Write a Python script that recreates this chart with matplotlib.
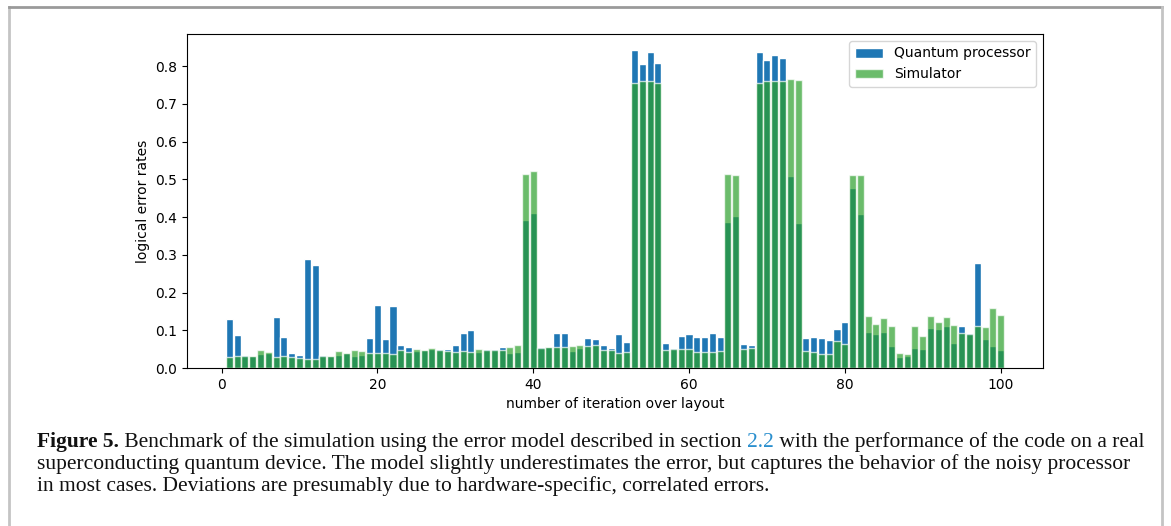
import numpy as np
import matplotlib
matplotlib.use('Agg')
import matplotlib.pyplot as plt
from matplotlib.lines import Line2D

iterations = np.arange(1, 101)

quantum = [0.130, 0.088, 0.035, 0.032, 0.037, 0.040, 0.136, 0.082, 0.040, 0.035,
           0.290, 0.274, 0.035, 0.032, 0.035, 0.040, 0.032, 0.035, 0.080, 0.168,
           0.077, 0.165, 0.061, 0.056, 0.045, 0.048, 0.051, 0.051, 0.051, 0.061,
           0.093, 0.101, 0.043, 0.051, 0.051, 0.056, 0.040, 0.043, 0.391, 0.410,
           0.056, 0.056, 0.093, 0.093, 0.045, 0.053, 0.080, 0.077, 0.061, 0.053,
           0.090, 0.069, 0.843, 0.806, 0.838, 0.809, 0.066, 0.053, 0.085, 0.090,
           0.082, 0.082, 0.093, 0.082, 0.388, 0.404, 0.064, 0.061, 0.838, 0.816,
           0.830, 0.822, 0.509, 0.384, 0.080, 0.082, 0.080, 0.074, 0.104, 0.122,
           0.476, 0.408, 0.096, 0.091, 0.096, 0.059, 0.029, 0.032, 0.053, 0.051,
           0.106, 0.104, 0.110, 0.067, 0.112, 0.093, 0.279, 0.077, 0.059, 0.048]

simulator = [0.029, 0.031, 0.031, 0.031, 0.048, 0.043, 0.029, 0.031, 0.029, 0.026,
             0.024, 0.024, 0.031, 0.032, 0.045, 0.039, 0.048, 0.045, 0.040, 0.040,
             0.040, 0.037, 0.048, 0.043, 0.051, 0.047, 0.052, 0.048, 0.045, 0.043,
             0.045, 0.043, 0.051, 0.048, 0.048, 0.048, 0.056, 0.061, 0.515, 0.521,
             0.053, 0.056, 0.056, 0.056, 0.059, 0.060, 0.059, 0.061, 0.048, 0.048,
             0.040, 0.043, 0.755, 0.761, 0.761, 0.755, 0.048, 0.051, 0.051, 0.051,
             0.043, 0.043, 0.043, 0.045, 0.515, 0.511, 0.051, 0.053, 0.755, 0.761,
             0.760, 0.760, 0.766, 0.763, 0.045, 0.043, 0.037, 0.037, 0.072, 0.064,
             0.512, 0.512, 0.138, 0.117, 0.133, 0.112, 0.040, 0.037, 0.111, 0.086,
             0.137, 0.121, 0.134, 0.114, 0.093, 0.090, 0.112, 0.109, 0.160, 0.140]

caption_lines = [
    "superconducting quantum device. The model slightly underestimates the error, but captures the behavior of the noisy processor",
    "in most cases. Deviations are presumably due to hardware-specific, correlated errors.",
]

fig = plt.figure(figsize=(11.71, 5.26), dpi=100)
ax = fig.add_axes([187 / 1171, 1 - 368 / 526, (1043 - 187) / 1171, (368 - 34) / 526])

ax.bar(iterations, quantum, width=0.9, color='tab:blue', edgecolor='white', label='Quantum processor')
ax.bar(iterations, simulator, width=0.9, color='tab:green', alpha=0.7, edgecolor='white', label='Simulator')
ax.set_xlabel('number of iteration over layout')
ax.set_ylabel('logical error rates')
ax.legend(loc='upper right')

# page frame around the figure
for xs, ys, c in [([8.5, 8.5], [526, 6.5], '#c4c4c4'),
                  ([8.5, 1162], [6.5, 6.5], '#9a9a9a'),
                  ([1162, 1162], [6.5, 526], '#c4c4c4')]:
    fig.add_artist(Line2D([x / 1171 for x in xs], [1 - y / 526 for y in ys],
                          color=c, lw=2, transform=fig.transFigure))

# caption
serif = 'Liberation Serif'
fs = 15.5
x0 = 37 / 1171
y1 = 1 - 447 / 526
fig.canvas.draw()
r = fig.canvas.get_renderer()
pieces = [("Figure 5.", 'bold', '#111111'),
          (" Benchmark of the simulation using the error model described in section ", 'normal', '#111111'),
          ("2.2", 'normal', '#2a8fce'),
          (" with the performance of the code on a real", 'normal', '#111111')]
x = x0
for s, w, c in pieces:
    t = fig.text(x, y1, s, family=serif, fontsize=fs, weight=w, color=c, va='baseline')
    bb = t.get_window_extent(renderer=r)
    x = bb.x1 / fig.bbox.width
for i, line in enumerate(caption_lines):
    fig.text(x0, y1 - (i + 1) * 22 / 526, line, family=serif, fontsize=fs,
             color='#111111', va='baseline')

fig.savefig('out.png', dpi=100)
